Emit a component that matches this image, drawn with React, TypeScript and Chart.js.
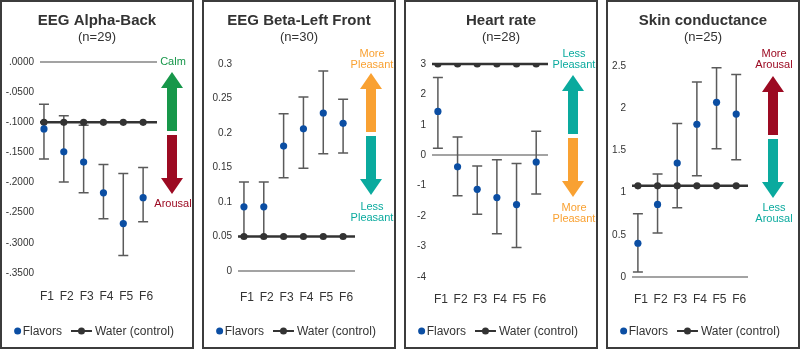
import React, { useEffect, useRef } from 'react';
import { Chart, registerables } from 'chart.js';

Chart.register(...registerables);

const FONT = "'Liberation Sans', Arial, sans-serif";
Chart.defaults.font.family = FONT;
Chart.defaults.color = '#333';

// ---------- data ----------
const categories = ['F1', 'F2', 'F3', 'F4', 'F5', 'F6'];
const legendLabels = ['Flavors', 'Water (control)'];

// EEG Alpha-Back (n=29)
const alphaMeans = [-0.111, -0.149, -0.166, -0.217, -0.268, -0.225];
const alphaLow = [-0.161, -0.199, -0.217, -0.26, -0.321, -0.265];
const alphaHigh = [-0.07, -0.089, -0.105, -0.17, -0.185, -0.175];
const alphaWater = [-0.1, -0.1, -0.1, -0.1, -0.1, -0.1];
const alphaTickValues = [0, -0.05, -0.1, -0.15, -0.2, -0.25, -0.3, -0.35];
const alphaTickLabels = ['.0000', '-.0500', '-.1000', '-.1500', '-.2000', '-.2500', '-.3000', '-.3500'];

// EEG Beta-Left Front (n=30)
const betaMeans = [0.093, 0.093, 0.181, 0.206, 0.229, 0.214];
const betaLow = [0.05, 0.05, 0.135, 0.149, 0.17, 0.171];
const betaHigh = [0.129, 0.129, 0.228, 0.252, 0.29, 0.249];
const betaWater = [0.05, 0.05, 0.05, 0.05, 0.05, 0.05];
const betaTickValues = [0, 0.05, 0.1, 0.15, 0.2, 0.25, 0.3];
const betaTickLabels = ['0', '0.05', '0.1', '0.15', '0.2', '0.25', '0.3'];

// Heart rate (n=28)
const heartMeans = [1.44, -0.38, -1.12, -1.39, -1.62, -0.22];
const heartLow = [0.23, -1.33, -1.94, -2.58, -3.03, -1.27];
const heartHigh = [2.56, 0.6, -0.35, -0.15, -0.27, 0.79];
const heartWater = [3, 3, 3, 3, 3, 3];
const heartTickValues = [3, 2, 1, 0, -1, -2, -3, -4];
const heartTickLabels = ['3', '2', '1', '0', '-1', '-2', '-3', '-4'];

// Skin conductance (n=25)
const skinMeans = [0.4, 0.86, 1.35, 1.81, 2.07, 1.93];
const skinLow = [0.06, 0.52, 0.82, 1.2, 1.52, 1.39];
const skinHigh = [0.75, 1.22, 1.82, 2.31, 2.48, 2.4];
const skinWater = [1.08, 1.08, 1.08, 1.08, 1.08, 1.08];
const skinTickValues = [0, 0.5, 1, 1.5, 2, 2.5];
const skinTickLabels = ['0', '0.5', '1', '1.5', '2', '2.5'];

// ---------- styles ----------
const BLUE = '#0b4ea3';
const DARK = '#333333';
const ERR = '#5a5a5a';
const GREEN = '#17974a';
const RED = '#9c0a22';
const ORANGE = '#f9a132';
const TEAL = '#0aaa9e';

type Arrow = {
  cx: number;
  shift: number;
  topColor: string;
  bottomColor: string;
  topText: string[];
  bottomText: string[];
  topTextY: number;
  bottomTextY: number;
};

type Panel = {
  title: string;
  subtitle: string;
  means: number[];
  low: number[];
  high: number[];
  water: number[];
  tickValues: number[];
  tickLabels: string[];
  xMin: number;
  xMax: number;
  left: number;
  right: number;
  top: number;
  bottom: number;
  xPad: number;
  arrow: Arrow;
};

const panels: Panel[] = [
  {
    title: 'EEG Alpha-Back', subtitle: '(n=29)',
    means: alphaMeans, low: alphaLow, high: alphaHigh, water: alphaWater,
    tickValues: alphaTickValues, tickLabels: alphaTickLabels,
    xMin: 0.8, xMax: 6.7, left: 38, right: 35, top: 60, bottom: 34, xPad: 16,
    arrow: { cx: 170, shift: 0, topColor: GREEN, bottomColor: RED, topText: ['Calm'], bottomText: ['Arousal'], topTextY: 60, bottomTextY: 202 },
  },
  {
    title: 'EEG Beta-Left Front', subtitle: '(n=30)',
    means: betaMeans, low: betaLow, high: betaHigh, water: betaWater,
    tickValues: betaTickValues, tickLabels: betaTickLabels,
    xMin: 0.7, xMax: 6.6, left: 34, right: 39, top: 62, bottom: 36, xPad: 19,
    arrow: { cx: 167, shift: 1, topColor: ORANGE, bottomColor: TEAL, topText: ['More', 'Pleasant'], bottomText: ['Less', 'Pleasant'], topTextY: 63, bottomTextY: 205 },
  },
  {
    title: 'Heart rate', subtitle: '(n=28)',
    means: heartMeans, low: heartLow, high: heartHigh, water: heartWater,
    tickValues: heartTickValues, tickLabels: heartTickLabels,
    xMin: 0.7, xMax: 6.6, left: 26, right: 48, top: 62, bottom: 30, xPad: 15,
    arrow: { cx: 167, shift: 3, topColor: TEAL, bottomColor: ORANGE, topText: ['Less', 'Pleasant'], bottomText: ['More', 'Pleasant'], topTextY: 63, bottomTextY: 206 },
  },
  {
    title: 'Skin conductance', subtitle: '(n=25)',
    means: skinMeans, low: skinLow, high: skinHigh, water: skinWater,
    tickValues: skinTickValues, tickLabels: skinTickLabels,
    xMin: 0.7, xMax: 6.6, left: 24, right: 50, top: 64, bottom: 30, xPad: 15,
    arrow: { cx: 165, shift: 4, topColor: RED, bottomColor: TEAL, topText: ['More', 'Arousal'], bottomText: ['Less', 'Arousal'], topTextY: 63, bottomTextY: 206 },
  },
];

const PANEL_LEFTS = [0, 202, 404, 606];
const PANEL_W = 194;
const PANEL_H = 349;
const BORDER = 2;

function makePlugins(p: Panel) {
  const titles = {
    id: 'panelTitles',
    afterDraw(chart: any) {
      const { ctx, width } = chart;
      ctx.save();
      ctx.fillStyle = '#333';
      ctx.textAlign = 'center';
      ctx.textBaseline = 'middle';
      ctx.font = `bold 15px ${FONT}`;
      ctx.fillText(p.title, width / 2, 19);
      ctx.font = `13px ${FONT}`;
      ctx.fillText(p.subtitle, width / 2, 35.5);
      ctx.restore();
    },
  };

  const bars = {
    id: 'errbars',
    beforeDatasetsDraw(chart: any) {
      const { ctx, chartArea, scales } = chart;
      const xs = scales.x;
      const ys = scales.y;
      ctx.save();
      ctx.strokeStyle = ERR;
      ctx.lineWidth = 1.5;
      p.means.forEach((_, i) => {
        const x = xs.getPixelForValue(i + 1);
        const yh = ys.getPixelForValue(p.high[i]);
        const yl = ys.getPixelForValue(p.low[i]);
        ctx.beginPath();
        ctx.moveTo(x, yh);
        ctx.lineTo(x, yl);
        ctx.moveTo(x - 5, yh);
        ctx.lineTo(x + 5, yh);
        ctx.moveTo(x - 5, yl);
        ctx.lineTo(x + 5, yl);
        ctx.stroke();
      });
      const wy = ys.getPixelForValue(p.water[0]);
      ctx.strokeStyle = DARK;
      ctx.lineWidth = 2.5;
      ctx.beginPath();
      ctx.moveTo(chartArea.left, wy);
      ctx.lineTo(chartArea.right, wy);
      ctx.stroke();
      ctx.restore();
    },
  };

  const legend = {
    id: 'customLegend',
    afterDraw(chart: any) {
      const { ctx, width } = chart;
      const y = 329;
      ctx.save();
      ctx.font = `12px ${FONT}`;
      ctx.textBaseline = 'middle';
      ctx.textAlign = 'left';
      const wF = ctx.measureText(legendLabels[0]).width;
      const wW = ctx.measureText(legendLabels[1]).width;
      const total = 7 + 1.5 + wF + 9 + 21 + 3 + wW;
      let x = (width - total) / 2 - 3;
      ctx.fillStyle = BLUE;
      ctx.beginPath();
      ctx.arc(x + 3.5, y, 3.5, 0, Math.PI * 2);
      ctx.fill();
      x += 8.5;
      ctx.fillStyle = '#333';
      ctx.fillText(legendLabels[0], x, y + 0.5);
      x += wF + 9;
      ctx.strokeStyle = DARK;
      ctx.lineWidth = 2;
      ctx.beginPath();
      ctx.moveTo(x, y);
      ctx.lineTo(x + 21, y);
      ctx.stroke();
      ctx.fillStyle = DARK;
      ctx.beginPath();
      ctx.arc(x + 10.5, y, 3.5, 0, Math.PI * 2);
      ctx.fill();
      x += 24;
      ctx.fillStyle = '#333';
      ctx.fillText(legendLabels[1], x, y + 0.5);
      ctx.restore();
    },
  };

  const arrows = {
    id: 'arrows',
    afterDraw(chart: any) {
      const a = p.arrow;
      const { ctx } = chart;
      const cx = a.cx;
      const s = a.shift;
      const headTop = 70 + s;
      const headBase = 86 + s;
      const shaftEnd = 129 + s;
      const shaft2 = 133 + s;
      const tip = 192 + s;
      const head2 = tip - 16;
      ctx.save();
      ctx.fillStyle = a.topColor;
      ctx.beginPath();
      ctx.moveTo(cx, headTop);
      ctx.lineTo(cx + 11, headBase);
      ctx.lineTo(cx + 5, headBase);
      ctx.lineTo(cx + 5, shaftEnd);
      ctx.lineTo(cx - 5, shaftEnd);
      ctx.lineTo(cx - 5, headBase);
      ctx.lineTo(cx - 11, headBase);
      ctx.closePath();
      ctx.fill();
      ctx.fillStyle = a.bottomColor;
      ctx.beginPath();
      ctx.moveTo(cx - 5, shaft2);
      ctx.lineTo(cx + 5, shaft2);
      ctx.lineTo(cx + 5, head2);
      ctx.lineTo(cx + 11, head2);
      ctx.lineTo(cx, tip);
      ctx.lineTo(cx - 11, head2);
      ctx.lineTo(cx - 5, head2);
      ctx.closePath();
      ctx.fill();

      ctx.font = `11px ${FONT}`;
      ctx.textAlign = 'center';
      ctx.textBaseline = 'middle';
      ctx.fillStyle = a.topColor;
      const n = a.topText.length;
      a.topText.forEach((t, i) => {
        ctx.fillText(t, cx + 1, a.topTextY - (n - 1 - i) * 11.5);
      });
      ctx.fillStyle = a.bottomColor;
      a.bottomText.forEach((t, i) => {
        ctx.fillText(t, cx + 1, a.bottomTextY + i * 11);
      });
      ctx.restore();
    },
  };
  return [titles, bars, legend, arrows];
}

function PanelChart({ p, left }: { p: Panel; left: number }) {
  const ref = useRef<HTMLCanvasElement | null>(null);
  useEffect(() => {
    if (!ref.current) return;
    const yMin = Math.min(...p.tickValues);
    const yMax = Math.max(...p.tickValues);
    const chart = new Chart(ref.current, {
      type: 'line',
      data: {
        datasets: [
          {
            label: legendLabels[0],
            data: p.means.map((v, i) => ({ x: i + 1, y: v })),
            showLine: false,
            pointRadius: 3.6,
            pointBorderWidth: 0,
            pointBackgroundColor: BLUE,
            borderColor: BLUE,
          },
          {
            label: legendLabels[1],
            data: p.water.map((v, i) => ({ x: i + 1, y: v })),
            showLine: false,
            pointRadius: 3.6,
            pointBorderWidth: 0,
            pointBackgroundColor: DARK,
            borderColor: DARK,
          },
        ],
      },
      options: {
        responsive: false,
        animation: false,
        events: [],
        layout: { padding: { left: 0, right: p.right, top: p.top, bottom: p.bottom } },
        plugins: {
          legend: { display: false },
          tooltip: { enabled: false },
          title: { display: false },
          subtitle: { display: false },
        },
        scales: {
          x: {
            type: 'linear',
            min: p.xMin,
            max: p.xMax,
            grid: { display: false, drawTicks: false },
            border: { display: false },
            afterBuildTicks: (s: any) => {
              s.ticks = categories.map((_, i) => ({ value: i + 1 }));
            },
            afterFit: (s: any) => {
              s.height = 40;
            },
            ticks: {
              autoSkip: false,
              maxRotation: 0,
              padding: p.xPad,
              labelOffset: 3,
              color: '#333',
              font: { size: 12 },
              callback: (v: any) => categories[Math.round(Number(v)) - 1],
            },
          },
          y: {
            type: 'linear',
            min: yMin,
            max: yMax,
            border: { display: false },
            grid: {
              drawTicks: false,
              lineWidth: 2,
              color: (c: any) => (c.tick && Math.abs(c.tick.value) < 1e-9 ? '#a3a3a3' : 'rgba(0,0,0,0)'),
            },
            afterBuildTicks: (s: any) => {
              s.ticks = p.tickValues.map((v) => ({ value: v }));
            },
            afterFit: (s: any) => {
              s.width = p.left;
            },
            ticks: {
              padding: 6,
              color: '#333',
              font: { size: 10 },
              callback: (v: any) => {
                const idx = p.tickValues.findIndex((t) => Math.abs(t - Number(v)) < 1e-9);
                return idx >= 0 ? p.tickLabels[idx] : '';
              },
            },
          },
        },
      },
      plugins: makePlugins(p),
    } as any);
    return () => chart.destroy();
  }, [p]);

  return (
    <div
      style={{
        position: 'absolute',
        left,
        top: 0,
        width: PANEL_W,
        height: PANEL_H,
        border: `${BORDER}px solid #3c3c3c`,
        boxSizing: 'border-box',
        background: '#fff',
      }}
    >
      <canvas
        ref={ref}
        width={PANEL_W - BORDER * 2}
        height={PANEL_H - BORDER * 2}
        style={{ display: 'block', width: PANEL_W - BORDER * 2, height: PANEL_H - BORDER * 2 }}
      />
    </div>
  );
}

export default function App() {
  return (
    <div style={{ position: 'fixed', left: 0, top: 0, width: 800, height: 350, background: '#fff' }}>
      {panels.map((p, i) => (
        <PanelChart key={p.title} p={p} left={PANEL_LEFTS[i]} />
      ))}
    </div>
  );
}
